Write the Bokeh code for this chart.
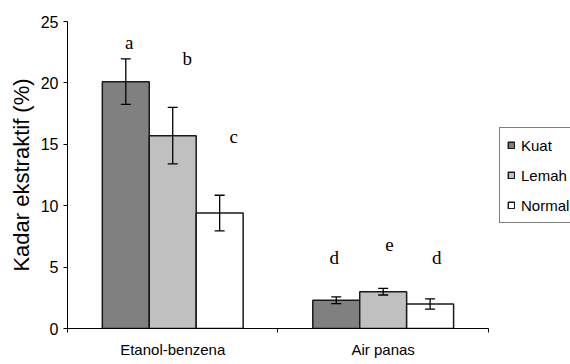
from bokeh.plotting import figure
from bokeh.models import (ColumnDataSource, FixedTicker, Whisker, TeeHead, Legend,
                          LegendItem, Range1d)
from bokeh.core.properties import value
from bokeh.embed import file_html
from bokeh.resources import INLINE

# ---- data ----
categories = ["Etanol-benzena", "Air panas"]
series = ["Kuat", "Lemah", "Normal"]
colors = ["#808080", "#c0c0c0", "#ffffff"]
kuat = [20.1, 2.3]
lemah = [15.7, 3.0]
normal = [9.4, 2.0]
kuat_err = [1.85, 0.27]
lemah_err = [2.3, 0.27]
normal_err = [1.45, 0.42]
kuat_letters = ["a", "d"]
lemah_letters = ["b", "e"]
normal_letters = ["c", "d"]
y_ticks = [0, 5, 10, 15, 20, 25]

# layout helpers (not data)
bar_w = 0.223
offsets = [-bar_w, 0.0, bar_w]
letter_y = {"Kuat": [23.3, 5.8], "Lemah": [22.0, 6.8], "Normal": [15.6, 5.8]}
letter_dx = {"Kuat": [0.016, -0.01], "Lemah": [0.069, 0.03], "Normal": [0.067, 0.031]}

p = figure(width=570, height=364, output_backend="svg", toolbar_location=None,
           x_range=Range1d(0, 2.39), y_range=Range1d(0, 25),
           min_border_left=67, min_border_right=0, min_border_top=21,
           min_border_bottom=36)
p.outline_line_color = None
p.xgrid.visible = False
p.ygrid.visible = False
p.background_fill_color = "white"
p.border_fill_color = "white"

vals = {"Kuat": kuat, "Lemah": lemah, "Normal": normal}
errs = {"Kuat": kuat_err, "Lemah": lemah_err, "Normal": normal_err}
lets = {"Kuat": kuat_letters, "Lemah": lemah_letters, "Normal": normal_letters}

items = []
for s, col, off in zip(series, colors, offsets):
    xs = [i + 0.5 + off for i in range(len(categories))]
    v = vals[s]
    e = errs[s]
    src = ColumnDataSource(dict(x=xs, top=v,
                                upper=[a + b for a, b in zip(v, e)],
                                lower=[a - b for a, b in zip(v, e)]))
    r = p.vbar(x="x", top="top", bottom=0, width=bar_w, source=src,
               fill_color=col, line_color="#1a1a1a", line_width=1.5)
    items.append(LegendItem(label=s, renderers=[r]))
    w = Whisker(base="x", upper="upper", lower="lower", source=src,
                line_color="black", line_width=1.3, level="overlay",
                upper_head=TeeHead(size=10, line_color="black", line_width=1.3),
                lower_head=TeeHead(size=10, line_color="black", line_width=1.3))
    p.add_layout(w)
    tsrc = ColumnDataSource(dict(x=[x + d for x, d in zip(xs, letter_dx[s])],
                                 y=letter_y[s], t=lets[s]))
    p.text(x="x", y="y", text="t", source=tsrc, text_align="center",
           text_baseline="middle", text_font=value("Liberation Serif"),
           text_font_size="19px", text_color="black")

# y axis
yax = p.yaxis[0]
yax.ticker = FixedTicker(ticks=y_ticks, minor_ticks=[])
yax.axis_label = "Kadar ekstraktif (%)"
yax.axis_label_text_font = "Liberation Sans"
yax.axis_label_text_font_size = "22px"
yax.axis_label_text_font_style = "normal"
yax.axis_label_standoff = 4
yax.major_label_text_font = "Liberation Sans"
yax.major_label_text_font_size = "16px"
yax.major_label_standoff = 5
yax.major_tick_in = 0
yax.major_tick_out = 4
yax.axis_line_color = "black"
yax.major_tick_line_color = "black"
yax.major_label_text_color = "black"
yax.axis_label_text_color = "black"

# x axis
xax = p.xaxis[0]
xax.bounds = (0, 2)
xax.ticker = FixedTicker(ticks=[0.5, 1.5], minor_ticks=[0, 1, 2])
xax.major_label_overrides = {0.5: categories[0], 1.5: categories[1]}
xax.major_label_text_font = "Liberation Sans"
xax.major_label_text_font_size = "15px"
xax.major_label_text_color = "black"
xax.major_label_standoff = 8
xax.major_tick_in = 0
xax.major_tick_out = 0
xax.minor_tick_in = 0
xax.minor_tick_out = 4
xax.minor_tick_line_color = "black"
xax.axis_line_color = "black"

legend = Legend(items=items, location=(432, 105),
                label_text_font="Liberation Sans", label_text_font_size="15px",
                label_text_color="black",
                glyph_width=8, glyph_height=8, label_standoff=6,
                padding=7, spacing=10, label_height=20,
                border_line_color="black", border_line_width=1,
                background_fill_color="white", background_fill_alpha=1.0,
                margin=0)
p.add_layout(legend, "center")

open("out.html", "w").write(file_html(p, INLINE))
